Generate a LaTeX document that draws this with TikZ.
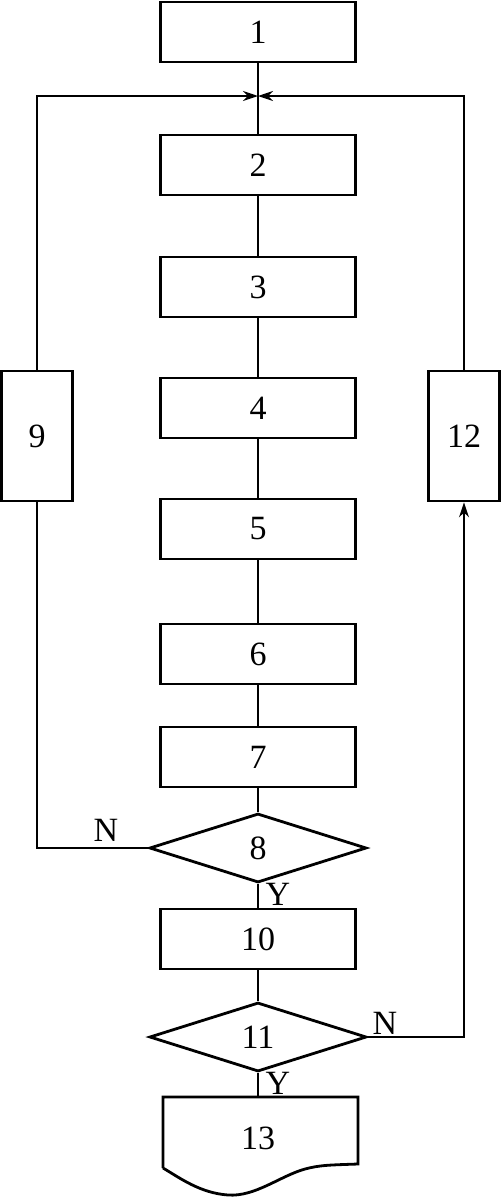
\documentclass[tikz,border=0pt]{standalone}
\usepackage{fontspec}
\setmainfont{Liberation Serif}
\usetikzlibrary{shapes.geometric,arrows.meta}
\begin{document}
\begin{tikzpicture}[x=1pt,y=-1pt,
  box/.style={draw,line width=2.8pt,minimum width=195pt,minimum height=60pt,inner sep=0pt,font=\fontsize{34}{40}\selectfont},
  vbox/.style={draw,line width=2.8pt,minimum width=71pt,minimum height=130pt,inner sep=0pt,font=\fontsize{34}{40}\selectfont},
  dia/.style={draw,diamond,line width=2.8pt,minimum width=217pt,minimum height=69pt,inner sep=0pt,font=\fontsize{34}{40}\selectfont},
  lbl/.style={font=\fontsize{34}{40}\selectfont,inner sep=0pt},
  conn/.style={line width=1.4pt},
  arr/.style={line width=1.4pt,-{Stealth[length=15pt,width=10pt]}}]
\useasboundingbox (0,0) rectangle (501,1197);
\node[box] (n1) at (258,32) {1};
\node[box] (n2) at (258,165) {2};
\node[box] (n3) at (258,287) {3};
\node[box] (n4) at (258,408) {4};
\node[box] (n5) at (258,529) {5};
\node[box] (n6) at (258,654) {6};
\node[box] (n7) at (258,757) {7};
\node[dia] (n8) at (258,848) {8};
\node[box] (n10) at (258,939) {10};
\node[dia] (n11) at (258,1037) {11};
\node[vbox] (n9) at (37,436) {9};
\node[vbox] (n12) at (464,436) {12};
% node 13 with wavy bottom
\node[lbl,minimum width=195pt,minimum height=82pt] (n13) at (258,1138) {13};
\draw[line width=2.8pt] (163,1168) -- (163,1097) -- (358,1097) -- (358,1164)
  .. controls (330,1165) and (320,1165) .. (305,1169)
  .. controls (280,1176) and (255,1197) .. (228,1195)
  .. controls (200,1193) and (180,1178) .. (163,1168);
\coordinate (j) at (258,96);
\draw[conn] (n1.south) -- (n2.north);
\draw[conn] (n2.south) -- (n3.north);
\draw[conn] (n3.south) -- (n4.north);
\draw[conn] (n4.south) -- (n5.north);
\draw[conn] (n5.south) -- (n6.north);
\draw[conn] (n6.south) -- (n7.north);
\draw[conn] (n7.south) -- (n8.north);
\draw[conn] (n8.south) -- (n10.north);
\draw[conn] (n10.south) -- (n11.north);
\draw[conn] (n11.south) -- (n13.north);
\draw[arr] (n9.north) |- (j);
\draw[arr] (n12.north) |- (j);
\draw[conn] (n8.west) -| (n9.south);
\draw[arr] (n11.east) -| (n12.south);
\node[lbl] (lN8) at (106,830) {N};
\node[lbl] (lY8) at (278,894) {Y};
\node[lbl] (lN11) at (385,1023) {N};
\node[lbl] (lY11) at (278,1083) {Y};
\end{tikzpicture}
\end{document}
